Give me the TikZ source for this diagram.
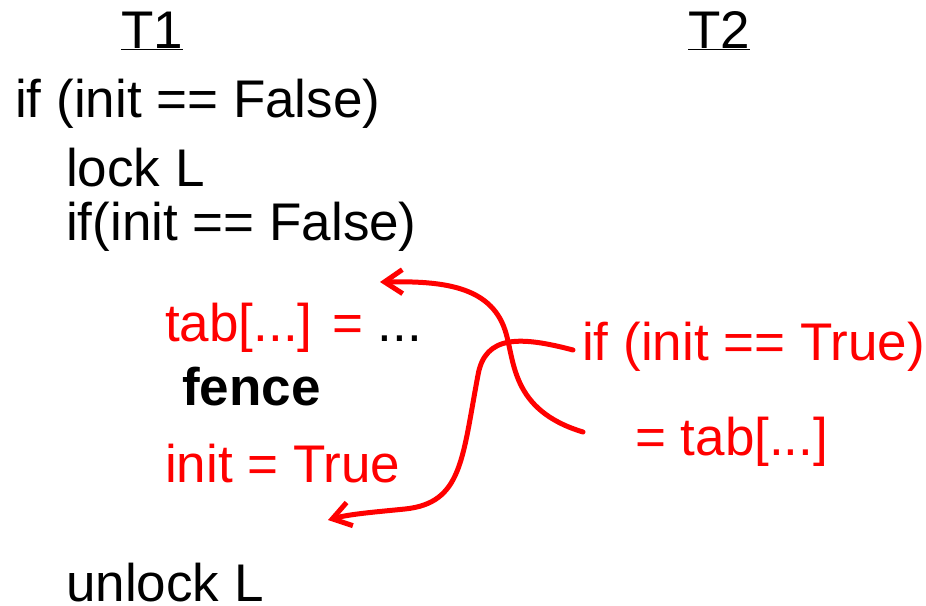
\documentclass[tikz,border=0pt]{standalone}
\usepackage{fontspec}
\setmainfont{Liberation Sans}
\usetikzlibrary{arrows.meta}
\definecolor{pred}{RGB}{255,0,0}
\tikzset{
  txt/.style={anchor=base west,inner sep=0pt,font=\fontsize{53}{53}\selectfont},
  rtxt/.style={txt,text=pred},
  flow/.style={draw=pred,line width=5pt,line cap=round,-{Straight Barb[length=18pt,width=24pt,line width=5pt]}}
}
\begin{document}
\begin{tikzpicture}[x=1pt,y=-1pt]
\useasboundingbox (0,0) rectangle (926,605);
\node[txt] (t1) at (121,48) {\underline{T1}};
\node[txt] (t2) at (688,48) {\underline{T2}};
\node[txt] (a1) at (15,117) {if (init == False)};
\node[txt] (a2) at (66,186) {lock L};
\node[txt] (a3) at (66,240) {if(init == False)};
\node[txt] (a4) at (165,341) {\textcolor{pred}{tab[...] =} ...};
\node[txt,font=\fontsize{53}{53}\selectfont\bfseries] (a5) at (182,405) {fence};
\node[rtxt] (a6) at (165,482) {init = True};
\node[txt] (a7) at (66,601) {unlock L};
\node[rtxt] (b1) at (582,360) {if (init == True)};
\node[rtxt] (b2) at (635,455) {= tab[...]};
\coordinate (s1) at (583,432);
\coordinate (e1) at (380,282);
\coordinate (s2) at (573,350);
\coordinate (e2) at (328,520);
\draw[flow] (s1) .. controls (510,410) and (515,360) .. (505,330)
  .. controls (490,285) and (440,281) .. (e1);
\draw[flow] (s2) .. controls (520,336) and (485,335) .. (478,375)
  .. controls (462,460) and (462,503) .. (405,509)
  .. controls (375,512) and (350,514) .. (e2);
\end{tikzpicture}
\end{document}
